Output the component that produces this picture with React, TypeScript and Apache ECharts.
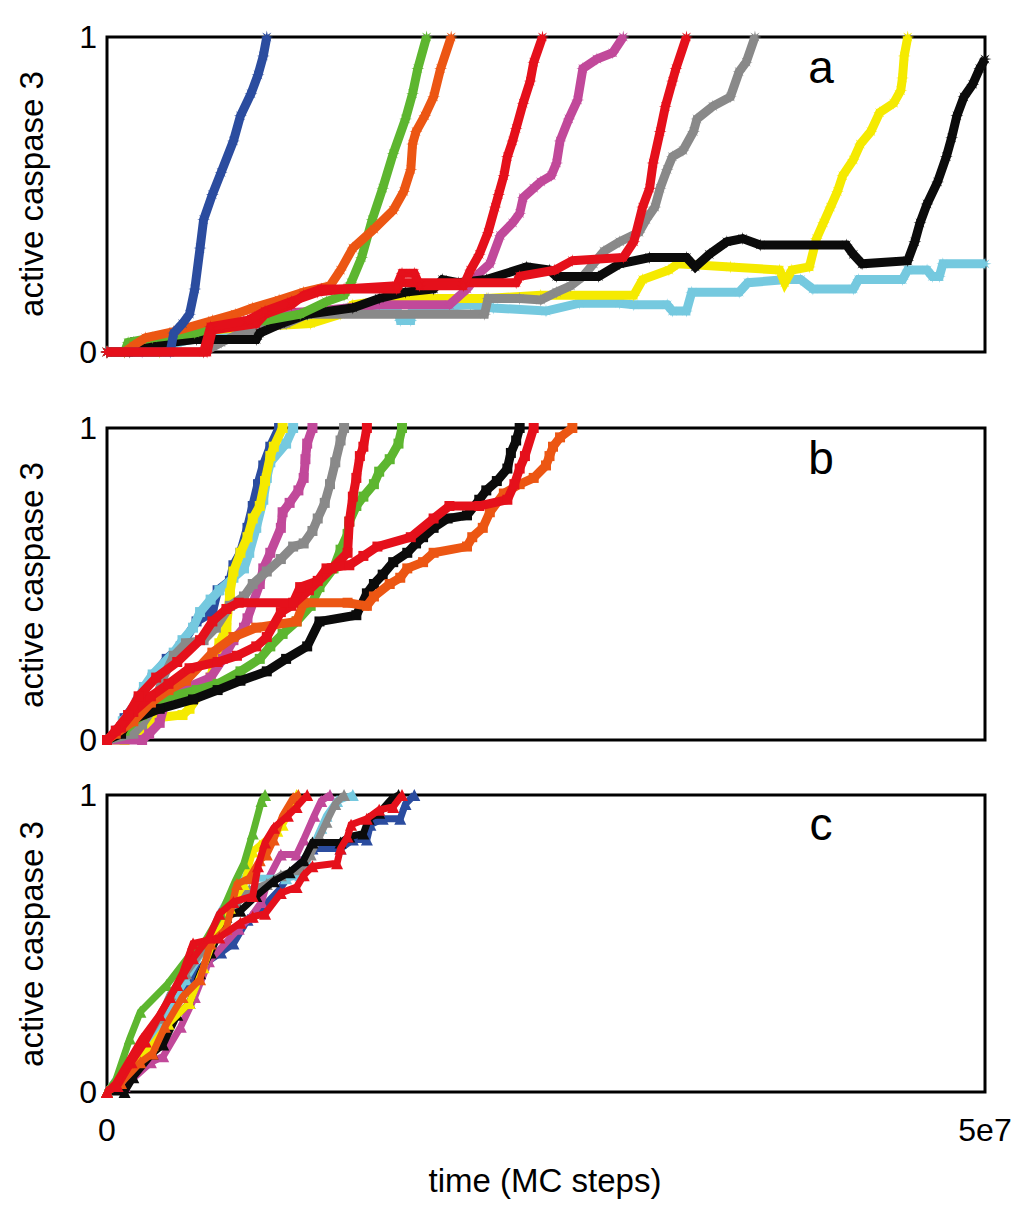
import React, { useEffect, useRef } from "react";
import * as echarts from "echarts";

// ---------- data (x in units of 1e6 MC steps, y = active caspase 3 fraction) ----------
const xTickLabels: Record<number, string> = { 0: "0", 50: "5e7" };
const yTickLabels: Record<number, string> = { 0: "0", 1: "1" };
const panelLabels = ["a", "b", "c"];
const yTitle = "active caspase 3";
const xTitle = "time (MC steps)";

// panel a
const aCyan = [[0,0],[3,0],[4,0.03],[6.5,0.06],[8,0.065],[10,0.09],[12,0.12],[13.7,0.14],[16.5,0.14],[16.7,0.1],[17.3,0.1],[17.4,0.14],[20.7,0.15],[22,0.14],[25,0.13],[26.9,0.155],[29.2,0.155],[30,0.15],[31.9,0.15],[32.2,0.13],[33,0.13],[33.3,0.19],[36,0.19],[36.5,0.22],[38.7,0.23],[39.5,0.23],[40.2,0.2],[42.5,0.2],[42.8,0.23],[45.3,0.23],[45.6,0.26],[46.7,0.26],[47,0.24],[47.4,0.24],[47.6,0.28],[50,0.28]];
const aYellow = [[0,0],[3,0],[3.8,0.06],[8.3,0.08],[11.6,0.09],[13.3,0.12],[14,0.15],[16.5,0.17],[21.6,0.17],[24.7,0.18],[30,0.18],[30.5,0.23],[32,0.26],[32.5,0.28],[35.5,0.27],[38.3,0.26],[38.6,0.22],[39,0.26],[40,0.27],[40.4,0.36],[40.8,0.41],[41.2,0.46],[41.6,0.51],[41.9,0.56],[42.5,0.61],[42.9,0.66],[43.5,0.7],[44.0,0.76],[44.8,0.79],[45.2,0.83],[45.3,0.87],[45.4,0.94],[45.6,1.0]];
const aMagenta = [[0,0],[2,0],[3,0.03],[6,0.08],[8,0.1],[9,0.12],[12,0.13],[15.5,0.15],[19.5,0.15],[20.5,0.2],[21.2,0.25],[21.8,0.28],[22.4,0.37],[23.1,0.41],[23.5,0.44],[23.7,0.49],[24.3,0.52],[24.7,0.54],[25.3,0.56],[25.6,0.6],[25.8,0.67],[26.3,0.74],[26.8,0.8],[27.1,0.9],[27.9,0.93],[28.8,0.95],[29.4,1.0]];
const aGray = [[0,0],[5.5,0],[6.5,0.03],[7.6,0.06],[10.2,0.09],[11.4,0.12],[21.5,0.12],[21.7,0.17],[23.5,0.17],[24.7,0.165],[25.6,0.19],[26.4,0.21],[27.1,0.24],[27.7,0.28],[28.3,0.32],[29.2,0.35],[30.3,0.38],[30.7,0.42],[31.2,0.46],[31.5,0.52],[31.9,0.58],[32.2,0.62],[32.8,0.64],[33.4,0.7],[33.6,0.74],[34.5,0.78],[35.5,0.81],[36.0,0.89],[36.4,0.92],[36.9,1.0]];
const aBlack = [[0,0],[1.3,0],[1.5,0.03],[2.1,0.02],[5.1,0.04],[8.5,0.04],[8.7,0.06],[9.9,0.09],[11.4,0.12],[14,0.14],[15.5,0.17],[17,0.19],[18.6,0.2],[19.1,0.23],[20,0.22],[21.6,0.23],[23.9,0.27],[25.2,0.26],[25.6,0.24],[28.0,0.24],[29.2,0.28],[30.9,0.3],[33.0,0.3],[33.5,0.27],[34.3,0.31],[35.3,0.35],[36.2,0.36],[37.2,0.34],[42.1,0.34],[42.5,0.31],[43,0.28],[45.6,0.29],[46.0,0.35],[46.3,0.41],[46.7,0.47],[47.3,0.54],[47.8,0.62],[48.1,0.68],[48.4,0.75],[48.8,0.81],[49.3,0.85],[49.7,0.9],[50,0.93]];
const aGreen = [[0,0],[1.0,0],[1.2,0.03],[2.6,0.045],[5,0.06],[7,0.09],[9,0.1],[11,0.12],[12.5,0.16],[13.5,0.18],[13.9,0.22],[14.5,0.3],[15.1,0.42],[15.7,0.52],[16.3,0.63],[17.0,0.74],[17.4,0.82],[17.7,0.9],[18.2,1.0]];
const aOrange = [[0,0],[1.0,0],[1.5,0.02],[2.2,0.045],[3.8,0.065],[6.0,0.1],[7.3,0.12],[8.3,0.14],[9.8,0.165],[11.2,0.19],[12.7,0.21],[13.3,0.26],[14.0,0.33],[15.2,0.39],[16.3,0.45],[16.9,0.51],[17.3,0.58],[17.4,0.66],[17.6,0.7],[18.1,0.75],[18.6,0.81],[19.0,0.9],[19.6,1.0]];
const aBlue = [[0,0],[3.6,0],[3.8,0.06],[4.3,0.09],[4.7,0.12],[5.0,0.2],[5.3,0.33],[5.5,0.42],[6.0,0.5],[6.5,0.57],[7.2,0.67],[7.6,0.75],[8.2,0.82],[8.6,0.88],[8.9,0.94],[9.1,1.0]];
const aRed2 = [[0,0],[5.7,0],[6.0,0.07],[8.5,0.09],[9.0,0.12],[10.5,0.15],[11.2,0.18],[12.2,0.2],[16.5,0.2],[16.7,0.22],[23.3,0.22],[23.5,0.24],[25.5,0.26],[26.5,0.29],[29.4,0.3],[30.0,0.35],[30.5,0.46],[30.9,0.52],[31.1,0.6],[31.5,0.7],[31.8,0.78],[32.2,0.86],[32.4,0.9],[33.0,1.0]];
const aRed1 = [[0,0],[5.5,0],[5.9,0.08],[8.0,0.1],[9.0,0.13],[10.5,0.16],[12.0,0.19],[13.5,0.2],[16.5,0.21],[16.8,0.25],[17.5,0.25],[17.8,0.21],[20.3,0.21],[20.7,0.26],[21.2,0.31],[21.7,0.38],[22.1,0.46],[22.3,0.5],[22.6,0.56],[22.8,0.62],[23.1,0.67],[23.3,0.71],[23.7,0.79],[24.1,0.86],[24.3,0.92],[24.8,1.0]];

// panel b
const bBlue = [[0,0],[0.6,0.03],[1.0,0.07],[1.8,0.13],[2.6,0.2],[3.4,0.26],[4.2,0.3],[5.1,0.38],[6.0,0.41],[6.3,0.48],[7.0,0.51],[7.2,0.56],[7.6,0.6],[8.0,0.68],[8.3,0.75],[8.6,0.82],[8.9,0.88],[9.3,0.94],[9.8,1.0]];
const bCyan = [[0,0],[0.5,0.02],[0.9,0.06],[1.7,0.12],[2.1,0.17],[2.6,0.21],[3.8,0.28],[4.3,0.32],[4.9,0.36],[5.3,0.41],[5.9,0.45],[6.4,0.48],[7.2,0.52],[7.8,0.55],[8.1,0.6],[8.5,0.68],[8.9,0.77],[9.1,0.84],[9.3,0.89],[10.2,0.95],[10.6,1.0]];
const bYellow = [[0,0],[1.0,0],[1.7,0.02],[2.2,0.05],[2.6,0.07],[4.3,0.08],[4.7,0.1],[5.3,0.15],[5.9,0.2],[6.4,0.31],[6.8,0.36],[7.0,0.47],[7.2,0.54],[7.6,0.6],[8.0,0.65],[8.3,0.71],[8.7,0.75],[9.0,0.83],[9.3,0.91],[9.5,0.94],[10.0,1.0]];
const bMagenta = [[0,0],[2.0,0],[2.4,0.02],[3.0,0.055],[3.4,0.14],[4.2,0.16],[5.9,0.2],[6.6,0.26],[7.2,0.32],[7.8,0.36],[8.0,0.39],[8.7,0.5],[8.9,0.55],[9.3,0.6],[9.9,0.68],[10.0,0.73],[10.4,0.76],[10.9,0.8],[11.2,0.84],[11.3,0.9],[11.4,0.95],[11.7,1.0]];
const bGray = [[0,0],[1.5,0.02],[2.0,0.05],[2.6,0.1],[3.2,0.2],[3.8,0.27],[4.5,0.31],[5.5,0.32],[6.2,0.36],[7.0,0.43],[7.8,0.46],[8.3,0.5],[9.1,0.54],[9.9,0.58],[10.6,0.62],[11.2,0.63],[11.7,0.67],[12.0,0.71],[12.4,0.76],[12.7,0.82],[13.0,0.89],[13.3,0.96],[13.5,1.0]];
const bGreen = [[0,0],[1,0.03],[2,0.08],[3.0,0.13],[5.1,0.16],[6.3,0.18],[7.6,0.22],[8.7,0.26],[9.3,0.3],[10.0,0.34],[10.8,0.38],[11.6,0.43],[12.1,0.49],[12.9,0.55],[13.3,0.61],[13.7,0.66],[13.8,0.7],[14.2,0.75],[14.6,0.78],[15.2,0.82],[15.5,0.86],[16.1,0.9],[16.6,0.95],[16.8,1.0]];
const bBlack = [[0,0],[0.8,0.02],[1.2,0.06],[3.0,0.1],[4.9,0.13],[6.3,0.16],[7.6,0.19],[9.1,0.22],[10.2,0.26],[11.4,0.3],[12.1,0.38],[14.2,0.4],[14.8,0.47],[15.2,0.5],[15.7,0.53],[16.3,0.57],[17.1,0.6],[17.6,0.63],[18.0,0.65],[18.6,0.68],[19.4,0.71],[20.5,0.72],[21.2,0.77],[21.6,0.8],[22.2,0.83],[22.8,0.87],[23.0,0.92],[23.3,0.96],[23.5,1.0]];
const bOrange = [[0,0],[0.5,0.02],[1.5,0.06],[2.5,0.12],[3.5,0.16],[4.5,0.19],[6.0,0.28],[7.2,0.33],[8.5,0.36],[10.8,0.38],[11.2,0.44],[13.7,0.44],[14.8,0.43],[15.2,0.46],[16.1,0.5],[16.7,0.52],[17.1,0.55],[18.0,0.57],[18.6,0.6],[20.5,0.62],[20.8,0.65],[21.4,0.68],[21.8,0.73],[22.6,0.79],[23.5,0.82],[24.3,0.84],[25.0,0.88],[25.2,0.91],[25.4,0.94],[25.8,0.97],[26.5,1.0]];
const bRed1 = [[0,0],[0.8,0.04],[1.5,0.09],[2.5,0.14],[3.5,0.18],[4.7,0.23],[6.3,0.25],[7.4,0.27],[8.5,0.3],[9.1,0.33],[9.9,0.41],[10.5,0.43],[11.5,0.48],[12.8,0.55],[13.7,0.6],[13.8,0.7],[14.0,0.78],[14.2,0.84],[14.4,0.91],[14.6,0.94],[14.8,1.0]];
const bRed2 = [[0,0],[0.5,0.03],[1.2,0.08],[1.8,0.14],[2.8,0.2],[4.0,0.25],[5.3,0.32],[6.0,0.38],[6.8,0.42],[7.5,0.44],[10.6,0.44],[11.0,0.49],[12.0,0.51],[12.5,0.55],[13.8,0.56],[14.6,0.59],[15.4,0.62],[17.3,0.65],[18.6,0.71],[19.5,0.75],[21.2,0.75],[22.8,0.77],[23.2,0.82],[23.5,0.87],[23.8,0.91],[24.3,1.0]];

// panel c
const cGreen = [[0,0],[0.5,0.04],[1.3,0.18],[1.9,0.27],[3.4,0.36],[4.7,0.46],[5.5,0.5],[6.5,0.6],[7.3,0.71],[7.8,0.77],[8.3,0.87],[8.8,0.98],[9.0,1.0]];
const cYellow = [[0,0],[0.5,0.02],[2.6,0.16],[3.5,0.23],[4.7,0.3],[5.5,0.42],[6.3,0.55],[7.0,0.62],[7.8,0.7],[8.3,0.81],[8.7,0.83],[9.7,0.88],[10.0,0.9],[10.6,0.97],[10.8,1.0]];
const cOrange = [[0,0],[0.8,0.03],[1.9,0.1],[2.6,0.13],[3.3,0.22],[4.3,0.32],[5.3,0.38],[5.9,0.5],[6.8,0.55],[7.4,0.7],[8.1,0.72],[8.7,0.78],[9.1,0.8],[9.5,0.85],[10.0,0.93],[10.6,0.99],[10.9,1.0]];
const cMagenta = [[0,0],[1.0,0.02],[2.5,0.1],[3.2,0.12],[4.2,0.22],[5.0,0.32],[5.8,0.44],[7.5,0.55],[8.2,0.59],[8.8,0.64],[9.2,0.72],[9.9,0.8],[10.8,0.8],[11.2,0.85],[11.8,0.93],[12.2,0.98],[12.7,1.0]];
const cCyan = [[0,0],[0.6,0.05],[1.5,0.12],[2.4,0.17],[3.2,0.25],[4.5,0.38],[5.5,0.48],[6.4,0.6],[7.0,0.66],[7.8,0.72],[10.2,0.72],[11.0,0.73],[11.4,0.78],[11.9,0.85],[12.2,0.89],[12.5,0.93],[13.1,0.98],[14.0,1.0]];
const cGray = [[0,0],[0.8,0.05],[2.0,0.15],[3.0,0.25],[3.6,0.33],[4.5,0.4],[5.5,0.48],[6.5,0.56],[7.2,0.62],[8.1,0.68],[9.1,0.7],[9.9,0.73],[11.0,0.75],[11.6,0.8],[12.1,0.86],[12.5,0.91],[13.0,0.97],[13.5,1.0]];
const cBlack = [[0,0],[1.0,0],[1.5,0.05],[2.6,0.13],[3.2,0.16],[4.0,0.26],[4.7,0.3],[5.3,0.4],[5.9,0.47],[6.8,0.59],[7.6,0.61],[8.5,0.66],[9.5,0.71],[10.4,0.74],[11.2,0.78],[11.7,0.84],[13.3,0.84],[13.8,0.86],[14.6,0.87],[14.9,0.92],[15.5,0.94],[16.1,0.98],[16.6,1.0]];
const cBlue = [[0,0],[0.8,0.03],[2.0,0.1],[2.8,0.2],[3.4,0.27],[4.5,0.36],[5.5,0.43],[6.5,0.47],[7.2,0.5],[8,0.58],[9,0.63],[9.8,0.68],[10.5,0.74],[11.0,0.77],[11.7,0.82],[13.3,0.82],[14.0,0.85],[14.8,0.85],[15.0,0.9],[15.7,0.92],[16.7,0.92],[17.0,0.97],[17.5,1.0]];
const cRed1 = [[0,0],[0.5,0.03],[1.2,0.1],[2.0,0.18],[3.0,0.26],[4.0,0.36],[4.9,0.45],[5.8,0.52],[6.4,0.6],[7.2,0.64],[8.3,0.66],[8.6,0.76],[9.0,0.84],[9.5,0.89],[10.3,0.93],[10.8,0.96],[11.4,1.0]];
const cRed2 = [[0,0],[0.6,0.02],[1.4,0.1],[2.2,0.17],[3.0,0.26],[3.6,0.32],[4.3,0.4],[4.9,0.5],[6.4,0.52],[7.6,0.57],[8.3,0.59],[9.0,0.6],[9.9,0.67],[10.8,0.69],[11.2,0.73],[11.7,0.76],[13.1,0.77],[13.3,0.82],[13.7,0.86],[13.9,0.9],[14.8,0.92],[15.5,0.95],[16.3,0.96],[16.8,1.0]];

// ---------- styling ----------
const COLORS = {
  blue: "#2b4c9f",
  green: "#5db62f",
  orange: "#ec5613",
  red: "#e5101b",
  magenta: "#c1499a",
  gray: "#898989",
  yellow: "#f5ea00",
  black: "#0b0b0b",
  cyan: "#75c9df",
};

const FONT = "'Liberation Sans', Arial, Helvetica, sans-serif";

function asteriskPath(): string {
  const pts: string[] = [];
  for (let k = 0; k < 16; k++) {
    const ang = (k * Math.PI) / 8;
    const r = k % 2 === 0 ? 10 : 3.6;
    pts.push(`${(10 + r * Math.cos(ang)).toFixed(2)} ${(10 + r * Math.sin(ang)).toFixed(2)}`);
  }
  return "path://M" + pts.join(" L") + " Z";
}

const GRIDS = [
  { left: 107, top: 37, width: 878, height: 315 },
  { left: 107, top: 428, width: 878, height: 312 },
  { left: 107, top: 795, width: 878, height: 297 },
];

export default function App() {
  const ref = useRef<HTMLDivElement>(null);

  useEffect(() => {
    if (!ref.current) return;
    const chart = echarts.init(ref.current, undefined, { renderer: "svg" });
    const star = asteriskPath();

    const panelSeries: [string, number[][], string][][] = [
      [
        ["cyan", aCyan, COLORS.cyan],
        ["yellow", aYellow, COLORS.yellow],
        ["magenta", aMagenta, COLORS.magenta],
        ["gray", aGray, COLORS.gray],
        ["black", aBlack, COLORS.black],
        ["green", aGreen, COLORS.green],
        ["orange", aOrange, COLORS.orange],
        ["blue", aBlue, COLORS.blue],
        ["red2", aRed2, COLORS.red],
        ["red1", aRed1, COLORS.red],
      ],
      [
        ["blue", bBlue, COLORS.blue],
        ["cyan", bCyan, COLORS.cyan],
        ["yellow", bYellow, COLORS.yellow],
        ["magenta", bMagenta, COLORS.magenta],
        ["gray", bGray, COLORS.gray],
        ["green", bGreen, COLORS.green],
        ["black", bBlack, COLORS.black],
        ["orange", bOrange, COLORS.orange],
        ["red1", bRed1, COLORS.red],
        ["red2", bRed2, COLORS.red],
      ],
      [
        ["blue", cBlue, COLORS.blue],
        ["magenta", cMagenta, COLORS.magenta],
        ["cyan", cCyan, COLORS.cyan],
        ["gray", cGray, COLORS.gray],
        ["black", cBlack, COLORS.black],
        ["yellow", cYellow, COLORS.yellow],
        ["green", cGreen, COLORS.green],
        ["orange", cOrange, COLORS.orange],
        ["red2", cRed2, COLORS.red],
        ["red1", cRed1, COLORS.red],
      ],
    ];

    const symbols = [star, "rect", "triangle"];
    const symbolSizes = [13, 10, 12];
    const lineWidths = [9, 9, 7];

    const series: any[] = [];
    panelSeries.forEach((list, gi) => {
      list.forEach(([name, data, color], si) => {
        series.push({
          type: "line",
          name: `${panelLabels[gi]}-${name}`,
          xAxisIndex: gi,
          yAxisIndex: gi,
          data,
          symbol: symbols[gi],
          symbolSize: symbolSizes[gi],
          showSymbol: true,
          showAllSymbol: true,
          lineStyle: { color, width: lineWidths[gi], join: "miter", cap: "butt" },
          itemStyle: { color },
          clip: false,
          silent: true,
          z: 2 + si,
        });
      });
    });

    const xAxes = GRIDS.map((_, i) => ({
      type: "value",
      gridIndex: i,
      min: 0,
      max: 50,
      interval: 50,
      axisLine: { show: false },
      axisTick: { show: false },
      splitLine: { show: false },
      axisLabel: {
        show: i === 2,
        formatter: (v: number) => xTickLabels[v] ?? "",
        fontSize: 32,
        fontFamily: FONT,
        color: "#000",
        margin: 22,
      },
    }));

    const yAxes = GRIDS.map((_, i) => ({
      type: "value",
      gridIndex: i,
      min: 0,
      max: 1,
      interval: 1,
      axisLine: { show: false },
      axisTick: { show: false },
      splitLine: { show: false },
      axisLabel: {
        formatter: (v: number) => yTickLabels[v] ?? "",
        fontSize: 32,
        fontFamily: FONT,
        color: "#000",
        margin: 10,
      },
    }));

    const yTitleCenters = [194, 585, 944];
    const labelPos = [
      [821, 67],
      [821, 458],
      [821, 824],
    ];

    const graphic: any[] = [];
    yTitleCenters.forEach((cy) => {
      graphic.push({
        type: "text",
        x: 31,
        y: cy,
        rotation: Math.PI / 2,
        silent: true,
        style: {
          text: yTitle,
          fontSize: 33,
          fontFamily: FONT,
          fill: "#000",
          align: "center",
          verticalAlign: "middle",
        },
      });
    });
    labelPos.forEach(([lx, ly], i) => {
      graphic.push({
        type: "text",
        x: lx,
        y: ly,
        silent: true,
        style: {
          text: panelLabels[i],
          fontSize: 46,
          fontFamily: FONT,
          fill: "#000",
          align: "center",
          verticalAlign: "middle",
        },
      });
    });
    graphic.push({
      type: "text",
      x: 545,
      y: 1180,
      silent: true,
      style: {
        text: xTitle,
        fontSize: 33,
        fontFamily: FONT,
        fill: "#000",
        align: "center",
        verticalAlign: "middle",
      },
    });

    chart.setOption({
      animation: false,
      backgroundColor: "#fff",
      grid: GRIDS.map((g) => ({
        ...g,
        show: true,
        borderColor: "#000",
        borderWidth: 3,
        backgroundColor: "transparent",
      })),
      xAxis: xAxes,
      yAxis: yAxes,
      series,
      graphic,
    });

    return () => {
      chart.dispose();
    };
  }, []);

  return (
    <div
      ref={ref}
      style={{ position: "absolute", left: 0, top: 0, width: 1024, height: 1209, background: "#fff" }}
    />
  );
}
